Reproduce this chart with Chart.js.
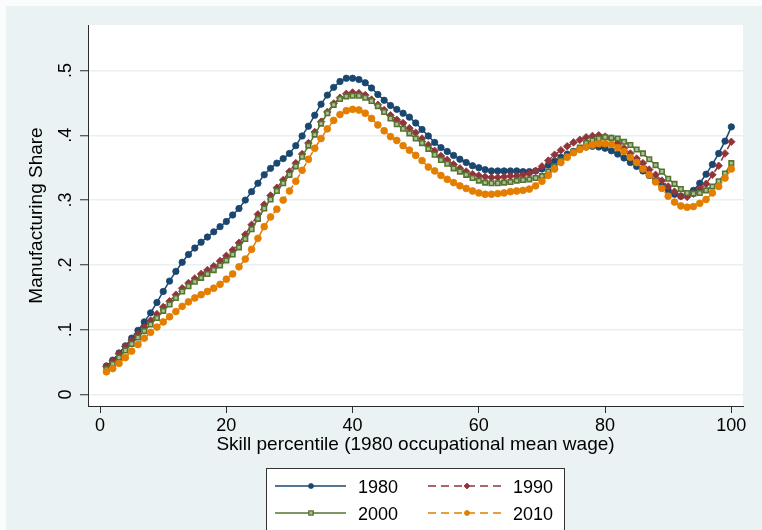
<!DOCTYPE html>
<html>
<head>
<meta charset="utf-8">
<title>Manufacturing Share by Skill Percentile</title>
<script src="https://cdn.jsdelivr.net/npm/chart.js@4.4.1/dist/chart.umd.min.js"></script>
<style>
  html, body { margin: 0; padding: 0; background: #ffffff; }
  #chart { display: block; }
</style>
</head>
<body>
<canvas id="chart" width="762" height="530"></canvas>
<script>
// Skill percentiles (1980 occupational mean wage rank)
const percentiles = [
  1, 2, 3, 4, 5, 6, 7, 8, 9, 10, 11, 12, 13, 14, 15, 16, 17, 18, 19, 20,
  21, 22, 23, 24, 25, 26, 27, 28, 29, 30, 31, 32, 33, 34, 35, 36, 37, 38, 39, 40,
  41, 42, 43, 44, 45, 46, 47, 48, 49, 50, 51, 52, 53, 54, 55, 56, 57, 58, 59, 60,
  61, 62, 63, 64, 65, 66, 67, 68, 69, 70, 71, 72, 73, 74, 75, 76, 77, 78, 79, 80,
  81, 82, 83, 84, 85, 86, 87, 88, 89, 90, 91, 92, 93, 94, 95, 96, 97, 98, 99, 100
];

// Manufacturing share of employment at each percentile, by year
const share1980 = [
  0.044, 0.053, 0.064, 0.075, 0.087, 0.099, 0.112, 0.126, 0.142, 0.159,
  0.175, 0.190, 0.204, 0.216, 0.226, 0.235, 0.243, 0.251, 0.259, 0.267,
  0.277, 0.287, 0.300, 0.313, 0.326, 0.339, 0.349, 0.357, 0.364, 0.372,
  0.384, 0.399, 0.414, 0.431, 0.448, 0.462, 0.474, 0.483, 0.488, 0.488,
  0.486, 0.481, 0.473, 0.463, 0.454, 0.446, 0.440, 0.434, 0.428, 0.419,
  0.409, 0.399, 0.389, 0.381, 0.375, 0.369, 0.363, 0.358, 0.353, 0.350,
  0.347, 0.345, 0.345, 0.345, 0.345, 0.345, 0.344, 0.344, 0.345, 0.348,
  0.354, 0.360, 0.366, 0.371, 0.375, 0.379, 0.382, 0.383, 0.382, 0.380,
  0.376, 0.371, 0.365, 0.358, 0.352, 0.345, 0.338, 0.330, 0.322, 0.315,
  0.309, 0.306, 0.308, 0.315, 0.326, 0.340, 0.355, 0.372, 0.391, 0.413
];
const share1990 = [
  0.043, 0.052, 0.063, 0.074, 0.084, 0.094, 0.104, 0.114, 0.124, 0.135,
  0.144, 0.154, 0.164, 0.172, 0.179, 0.186, 0.192, 0.198, 0.206, 0.214,
  0.223, 0.234, 0.247, 0.262, 0.278, 0.293, 0.307, 0.319, 0.331, 0.344,
  0.357, 0.371, 0.388, 0.405, 0.421, 0.436, 0.449, 0.458, 0.464, 0.466,
  0.465, 0.462, 0.455, 0.447, 0.439, 0.431, 0.424, 0.419, 0.411, 0.404,
  0.395, 0.385, 0.376, 0.368, 0.362, 0.355, 0.349, 0.344, 0.340, 0.338,
  0.336, 0.335, 0.335, 0.336, 0.337, 0.337, 0.339, 0.341, 0.345, 0.352,
  0.361, 0.370, 0.377, 0.383, 0.389, 0.393, 0.397, 0.399, 0.400, 0.398,
  0.395, 0.388, 0.380, 0.372, 0.364, 0.357, 0.347, 0.339, 0.330, 0.321,
  0.313, 0.306, 0.305, 0.310, 0.317, 0.325, 0.339, 0.353, 0.372, 0.390
];
const share2000 = [
  0.039, 0.047, 0.057, 0.068, 0.078, 0.088, 0.098, 0.108, 0.118, 0.129,
  0.139, 0.149, 0.159, 0.167, 0.174, 0.180, 0.186, 0.192, 0.199, 0.207,
  0.216, 0.227, 0.240, 0.255, 0.271, 0.287, 0.301, 0.314, 0.326, 0.339,
  0.352, 0.367, 0.384, 0.401, 0.418, 0.434, 0.447, 0.456, 0.460, 0.461,
  0.461, 0.458, 0.453, 0.445, 0.436, 0.426, 0.417, 0.410, 0.403, 0.395,
  0.388, 0.379, 0.370, 0.362, 0.356, 0.349, 0.344, 0.339, 0.334, 0.330,
  0.327, 0.326, 0.326, 0.327, 0.328, 0.330, 0.331, 0.332, 0.334, 0.337,
  0.344, 0.352, 0.361, 0.368, 0.375, 0.381, 0.388, 0.392, 0.395, 0.397,
  0.396, 0.395, 0.390, 0.385, 0.378, 0.372, 0.363, 0.354, 0.344, 0.333,
  0.325, 0.317, 0.311, 0.310, 0.311, 0.315, 0.321, 0.329, 0.341, 0.357
];
const share2010 = [
  0.035, 0.040, 0.048, 0.057, 0.067, 0.077, 0.087, 0.096, 0.104, 0.112,
  0.120, 0.128, 0.136, 0.143, 0.149, 0.154, 0.159, 0.164, 0.170, 0.178,
  0.186, 0.197, 0.209, 0.224, 0.241, 0.259, 0.274, 0.286, 0.300, 0.314,
  0.329, 0.346, 0.363, 0.380, 0.395, 0.410, 0.423, 0.432, 0.438, 0.440,
  0.439, 0.434, 0.426, 0.416, 0.407, 0.398, 0.392, 0.384, 0.377, 0.369,
  0.361, 0.351, 0.345, 0.338, 0.332, 0.327, 0.322, 0.318, 0.314, 0.311,
  0.309, 0.309, 0.310, 0.311, 0.313, 0.314, 0.315, 0.317, 0.322, 0.329,
  0.338, 0.348, 0.358, 0.366, 0.373, 0.378, 0.382, 0.385, 0.387, 0.387,
  0.386, 0.381, 0.375, 0.366, 0.358, 0.348, 0.339, 0.328, 0.318, 0.306,
  0.297, 0.291, 0.289, 0.290, 0.295, 0.301, 0.311, 0.321, 0.334, 0.348
];

const seriesNames = ['1980', '1990', '2000', '2010'];
const xTickValues = [0, 20, 40, 60, 80, 100];
const yTickValues = [0, 0.1, 0.2, 0.3, 0.4, 0.5];
const yTickLabels = ['0', '.1', '.2', '.3', '.4', '.5'];
const xAxisTitle = 'Skill percentile (1980 occupational mean wage)';
const yAxisTitle = 'Manufacturing Share';

const FONT = '"Liberation Sans", Arial, Helvetica, sans-serif';
const INK = '#000000';
const AXIS = '#2b2b2b';
const FRAME_BG = '#eaf2f3';

// Visual style of each year's line and marker
const styles = [
  { color: '#1a476f', fill: '#1a476f', marker: 'circle', radius: 3.2, dash: [] },
  { color: '#90353b', fill: '#90353b', marker: 'rectRot', radius: 3.8, dash: [8, 5] },
  { color: '#55752f', fill: '#aebd9b', marker: 'rect', radius: 3.2, dash: [] },
  { color: '#e37e00', fill: '#e37e00', marker: 'circle', radius: 3.4, dash: [8, 5] }
];

const seriesValues = [share1980, share1990, share2000, share2010];

const datasets = seriesValues.map((vals, i) => ({
  label: seriesNames[i],
  data: vals.map((v, j) => ({ x: percentiles[j], y: v })),
  borderColor: styles[i].color,
  backgroundColor: styles[i].fill,
  borderWidth: 1.5,
  borderDash: styles[i].dash,
  pointStyle: styles[i].marker,
  pointRadius: styles[i].radius,
  pointBorderColor: styles[i].color,
  pointBackgroundColor: styles[i].fill,
  pointBorderWidth: i === 2 ? 1.6 : 0.8,
  tension: 0,
  fill: false,
  order: 4 - i
}));

function drawMarker(ctx, st, x, y, r) {
  ctx.save();
  ctx.fillStyle = st.fill;
  ctx.strokeStyle = st.color;
  ctx.lineWidth = st.marker === 'rect' ? 1.4 : 0.8;
  ctx.setLineDash([]);
  ctx.beginPath();
  if (st.marker === 'circle') {
    ctx.arc(x, y, r, 0, Math.PI * 2);
  } else if (st.marker === 'rectRot') {
    ctx.moveTo(x, y - r); ctx.lineTo(x + r, y); ctx.lineTo(x, y + r); ctx.lineTo(x - r, y); ctx.closePath();
  } else {
    ctx.rect(x - r * 0.85, y - r * 0.85, r * 1.7, r * 1.7);
  }
  ctx.fill();
  ctx.stroke();
  ctx.restore();
}

// Background panels, rotated y labels, axis titles and the boxed legend
const framePlugin = {
  id: 'stataFrame',
  beforeDraw(chart) {
    const { ctx, chartArea: a } = chart;
    ctx.save();
    ctx.fillStyle = '#fbfcfc';
    ctx.fillRect(0, 0, chart.width, chart.height);
    ctx.fillStyle = FRAME_BG;
    ctx.fillRect(6, 6, chart.width - 6, chart.height - 6);
    ctx.fillStyle = '#ffffff';
    ctx.fillRect(a.left, a.top, a.right - a.left, a.bottom - a.top);
    ctx.restore();
  },
  afterDraw(chart) {
    const { ctx, chartArea: a } = chart;
    const yScale = chart.scales.y;
    ctx.save();
    ctx.fillStyle = INK;

    // y tick labels, rotated to read upward
    ctx.font = '18px ' + FONT;
    ctx.textAlign = 'center';
    ctx.textBaseline = 'alphabetic';
    yTickValues.forEach((v, i) => {
      const py = yScale.getPixelForValue(v);
      ctx.save();
      ctx.translate(71, py);
      ctx.rotate(-Math.PI / 2);
      ctx.fillText(yTickLabels[i], 0, 0);
      ctx.restore();
    });

    // axis titles
    ctx.font = '19px ' + FONT;
    ctx.fillText(xAxisTitle, (a.left + a.right) / 2, 450);
    ctx.save();
    ctx.translate(42, (a.top + a.bottom) / 2);
    ctx.rotate(-Math.PI / 2);
    ctx.fillText(yAxisTitle, 0, 0);
    ctx.restore();

    // legend box
    ctx.fillStyle = '#ffffff';
    ctx.fillRect(266, 468, 299, 70);
    ctx.strokeStyle = '#333333';
    ctx.lineWidth = 1;
    ctx.strokeRect(266.5, 468.5, 298, 70);

    const cols = [
      { x1: 275, x2: 346, xm: 311, xt: 358 },
      { x1: 428, x2: 501, xm: 467, xt: 513 }
    ];
    const rows = [486, 513];
    ctx.font = '18px ' + FONT;
    ctx.textAlign = 'left';
    seriesNames.forEach((name, i) => {
      const c = cols[i % 2];
      const y = rows[Math.floor(i / 2)];
      const st = styles[i];
      ctx.save();
      ctx.strokeStyle = st.color;
      ctx.lineWidth = 1.5;
      ctx.setLineDash(st.dash);
      ctx.beginPath();
      ctx.moveTo(c.x1, y);
      ctx.lineTo(c.x2, y);
      ctx.stroke();
      ctx.restore();
      drawMarker(ctx, st, c.xm, y, st.marker === 'rectRot' ? 3 : 2.5);
      ctx.fillStyle = INK;
      ctx.fillText(name, c.xt, y + 6.5);
    });
    ctx.restore();
  }
};

new Chart(document.getElementById('chart'), {
  type: 'line',
  data: { datasets },
  options: {
    responsive: false,
    animation: false,
    devicePixelRatio: 1,
    layout: { padding: { left: 0, top: 25, right: 19, bottom: 0 } },
    plugins: {
      legend: { display: false },
      tooltip: { enabled: false },
      title: { display: false }
    },
    scales: {
      x: {
        type: 'linear',
        min: -1.92,
        max: 101.85,
        afterBuildTicks: (s) => { s.ticks = xTickValues.map(v => ({ value: v })); },
        afterFit: (s) => { s.height = 124; },
        ticks: {
          color: INK,
          font: { family: FONT, size: 18 },
          padding: 2,
          maxRotation: 0,
          minRotation: 0,
          callback: (v) => String(v)
        },
        grid: {
          drawOnChartArea: false,
          drawTicks: true,
          tickLength: 7,
          tickColor: AXIS,
          tickWidth: 1
        },
        border: { display: true, color: AXIS, width: 1 }
      },
      y: {
        type: 'linear',
        min: -0.01775,
        max: 0.5702,
        afterBuildTicks: (s) => { s.ticks = yTickValues.map(v => ({ value: v })); },
        afterFit: (s) => { s.width = 88; },
        ticks: { display: false },
        grid: {
          color: '#e8f0f2',
          lineWidth: 1.5,
          drawTicks: true,
          tickLength: 8,
          tickColor: AXIS,
          tickWidth: 1
        },
        border: { display: true, color: AXIS, width: 1 }
      }
    }
  },
  plugins: [framePlugin]
});
</script>
</body>
</html>
